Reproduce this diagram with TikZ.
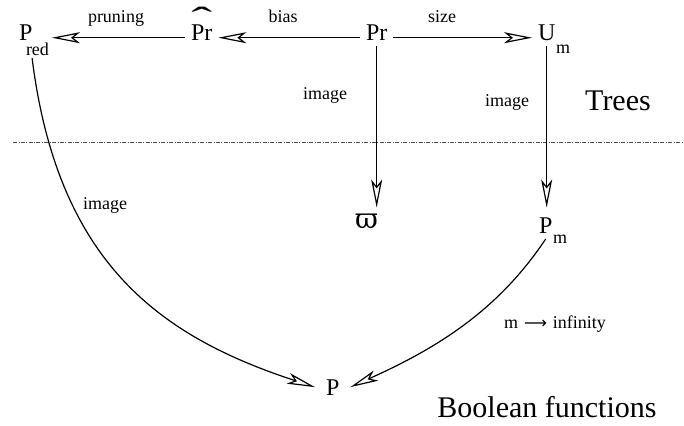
\documentclass[tikz,border=0pt]{standalone}
\usepackage{fontspec}
\usepackage{graphicx}
\setmainfont{Liberation Serif}
\newfontfamily\tms{Liberation Serif}
\newfontfamily\dejaserif{DejaVu Serif}
\newfontfamily\dejasans{DejaVu Sans}
\usetikzlibrary{arrows.meta}
\tikzset{
  big/.style={font=\tms\fontsize{24bp}{28bp}\selectfont,inner sep=0pt,outer sep=6bp,anchor=base west},
  lbl/.style={font=\tms\fontsize{18bp}{21bp}\selectfont,inner sep=0pt,anchor=base},
  sub/.style={lbl,anchor=base west,outer sep=3bp},
  region/.style={font=\tms\fontsize{30bp}{34bp}\selectfont,inner sep=0pt,anchor=base},
  map/.style={line width=1.2bp,-{Stealth[open,length=28bp,width=11bp,inset=7bp]}},
  sep/.style={line width=0.5bp,black!70,dash pattern=on 4bp off 1.5bp on 0.8bp off 1.5bp}
}
\newcommand\hatted[1]{\ooalign{#1\cr\hfil\raisebox{10bp}{\scalebox{2.6}[1.4]{ˆ}}\hfil\cr}}
\begin{document}
\begin{tikzpicture}[x=1bp,y=-1bp]
  \useasboundingbox (0,0) rectangle (684,425);
  % trees
  \node[big] (pred) at (13,40) {P};
  \node[sub] (predsub) at (23,55) {red};
  \node[big] (prhat) at (185,40) {\hatted{Pr}};
  \node[big] (pr) at (360,40) {Pr};
  \node[big] (um) at (532,40) {U};
  \node[sub] (umsub) at (553,53) {m};
  \draw[map] (pr.mid west) -- (prhat.mid east);
  \draw[map] (prhat.mid west) -- (pred.mid east -| predsub.east);
  \draw[map] (pr.mid east) -- (um.mid west);
  \node[lbl] at (116,22) {pruning};
  \node[lbl] at (283,22) {bias};
  \node[lbl] at (442,22) {size};
  \node[region] at (618,110) {Trees};
  \draw[sep] (13,142) -- (684,142);
  % boolean functions
  \node[big,font=\fontsize{28bp}{32bp}\selectfont] (varpi) at (349,228) {\dejaserif ϖ};
  \node[big] (pm) at (533,233) {P};
  \node[sub] (pmsub) at (550,243) {m};
  \node[big,outer sep=11bp] (p) at (315,395) {P};
  \draw[map] (pr.south) -- (pr.south |- varpi.north);
  \draw[map] (um.south) -- (um.south |- varpi.north);
  \node[lbl] at (325,99) {image};
  \node[lbl] at (507,106) {image};
  \draw[map] (predsub.240) .. controls (58,265) and (162,337) .. (p.west);
  \node[lbl] at (105,209) {image};
  \draw[map] (pm.south) .. controls (497,312) and (435,349) .. (p.east);
  \node[lbl] at (555,328) {m\hspace{6bp}{\dejasans\fontsize{16bp}{18bp}\selectfont ⟶}\hspace{6bp}infinity};
  \node[region] at (547,417) {Boolean functions};
\end{tikzpicture}
\end{document}
